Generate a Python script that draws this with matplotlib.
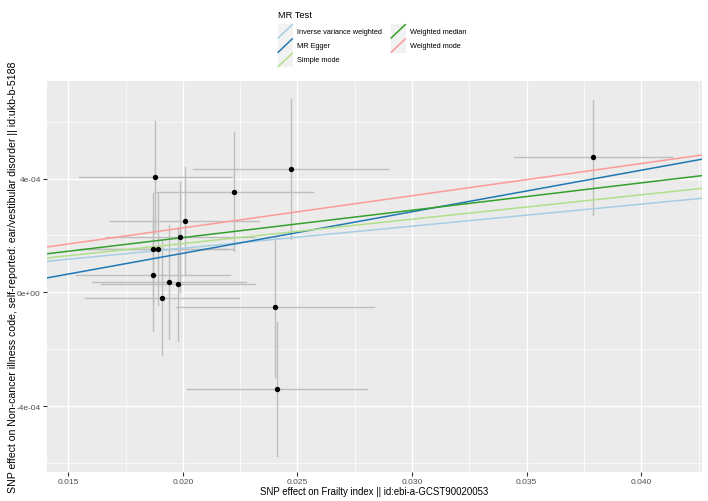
import matplotlib
matplotlib.use("Agg")
import matplotlib.pyplot as plt
from matplotlib.lines import Line2D
from matplotlib.patches import Rectangle
import numpy as np

plt.rcParams['font.family'] = ['Liberation Sans', 'DejaVu Sans']

# SNP effects (exposure beta, outcome beta) and standard errors
beta_x = [0.01880, 0.02224, 0.02470, 0.02008, 0.01987, 0.01870, 0.01890,
          0.01870, 0.01938, 0.01977, 0.01909, 0.02402, 0.02411, 0.03791]
beta_y = [4.06e-4, 3.54e-4, 4.35e-4, 2.50e-4, 1.95e-4, 1.53e-4, 1.53e-4,
          0.62e-4, 0.37e-4, 0.29e-4, -0.21e-4, -0.51e-4, -3.40e-4, 4.74e-4]
se_x = [0.00334, 0.00345, 0.00426, 0.00325, 0.00323, 0.00323, 0.00330,
        0.00334, 0.00336, 0.00336, 0.00336, 0.00432, 0.00394, 0.00345]
se_y = [1.97e-4, 2.08e-4, 2.46e-4, 1.90e-4, 1.94e-4, 1.95e-4, 1.97e-4,
        1.97e-4, 2.00e-4, 2.00e-4, 2.00e-4, 2.46e-4, 2.34e-4, 2.03e-4]

methods = ["Inverse variance weighted", "MR Egger", "Simple mode",
           "Weighted median", "Weighted mode"]
slopes = [0.00775, 0.01461, 0.00857, 0.00962, 0.01132]
intercepts = [0.0, -1.551e-4, 0.0, 0.0, 0.0]
colors = ["#a6cee3", "#1f78b4", "#b2df8a", "#33a02c", "#fb9a99"]

x_ticks = [0.015, 0.020, 0.025, 0.030, 0.035, 0.040]
x_tick_labels = ["0.015", "0.020", "0.025", "0.030", "0.035", "0.040"]
y_ticks = [-4e-4, 0.0, 4e-4]
y_tick_labels = ["-4e-04", "0e+00", "4e-04"]

W, H = 708, 502
fig = plt.figure(figsize=(W / 100, H / 100), dpi=100)
fig.patch.set_facecolor("white")
L, R, T, B = 46.7, 702, 82, 473
ax = fig.add_axes([L / W, 1 - B / H, (R - L) / W, (B - T) / H])
ax.set_facecolor("#ebebeb")
for s in ax.spines.values():
    s.set_visible(False)

xlim = (0.01406, 0.04265)
ylim = (-6.32e-4, 7.43e-4)
ax.set_xlim(*xlim)
ax.set_ylim(*ylim)

# grid
ax.set_xticks(x_ticks)
ax.set_xticklabels(x_tick_labels)
ax.set_yticks(y_ticks)
ax.set_yticklabels(y_tick_labels)
ax.set_xticks([0.0175, 0.0225, 0.0275, 0.0325, 0.0375, 0.0425], minor=True)
ax.set_yticks([-6e-4, -2e-4, 2e-4, 6e-4], minor=True)
ax.grid(which="major", color="white", linewidth=1.0)
ax.grid(which="minor", color="white", linewidth=0.5)
ax.set_axisbelow(True)
ax.tick_params(which="minor", length=0)
ax.tick_params(which="major", length=3, width=0.8, color="#333333",
               labelsize=6, labelcolor="#4d4d4d", pad=1.2)

# error bars
for bx, by, sx, sy in zip(beta_x, beta_y, se_x, se_y):
    ax.plot([bx - sx, bx + sx], [by, by], color="#bebebe", lw=1.0, zorder=2)
    ax.plot([bx, bx], [by - sy, by + sy], color="#bebebe", lw=1.0, zorder=2)

ax.scatter(beta_x, beta_y, s=15, color="black", zorder=4, linewidths=0)

# regression lines
xs = np.array(xlim)
for m, b, a, c in zip(methods, slopes, intercepts, colors):
    ax.plot(xs, a + b * xs, color=c, lw=1.1, zorder=3)

ax.set_xlabel("SNP effect on Frailty index || id:ebi-a-GCST90020053",
              fontsize=6.9, color="black", labelpad=1)
ax.set_ylabel("SNP effect on Non-cancer illness code, self-reported: ear/vestibular disorder || id:ukb-b-5188",
              fontsize=7.6, color="black", labelpad=-1)

# legend (manual, ggplot style)
fig.text(277.5 / W, 1 - 16 / H, "MR Test", fontsize=6.7, va="center", ha="left")
key_w, key_h = 15, 14.3
cols_x = [277.7, 390.7]
rows_y = [32.3, 46.6, 60.9]
order = [(0, 0), (0, 1), (0, 2), (1, 0), (1, 1)]
for (ci, ri), m, c in zip(order, methods, colors):
    x0 = cols_x[ci]
    yc = rows_y[ri]
    fig.add_artist(Rectangle((x0 / W, 1 - (yc + key_h / 2) / H), key_w / W, key_h / H,
                             transform=fig.transFigure, facecolor="#f2f2f2",
                             edgecolor="none"))
    fig.add_artist(Line2D([(x0 + 0.5) / W, (x0 + key_w - 0.5) / W],
                          [1 - (yc + key_h / 2 - 0.5) / H, 1 - (yc - key_h / 2 + 0.5) / H],
                          transform=fig.transFigure, color=c, lw=1.1))
    fig.text((x0 + key_w + 4.5) / W, 1 - yc / H, m, fontsize=5.3, va="center", ha="left")

fig.savefig("out.png", dpi=100)
